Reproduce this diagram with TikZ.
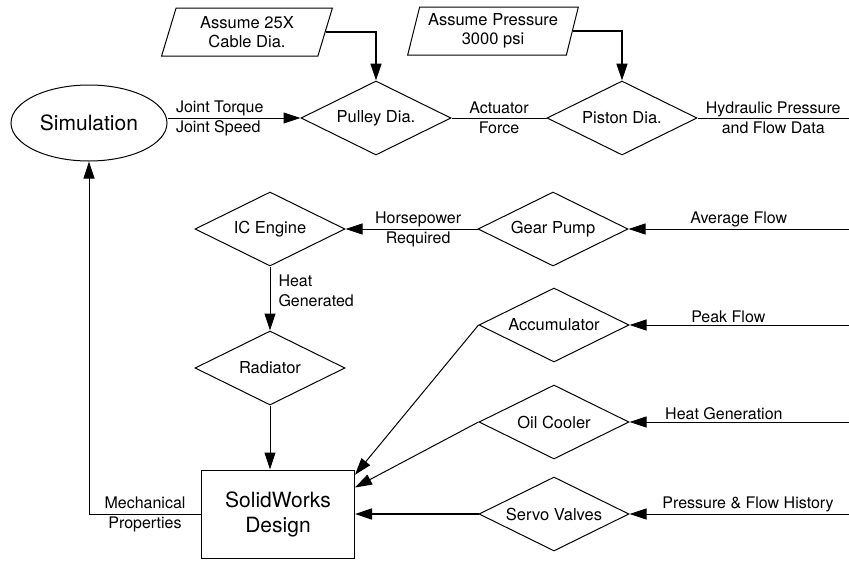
\documentclass[tikz,border=0pt]{standalone}
\usepackage{fontspec}
\setmainfont{TeX Gyre Heros}
\usepackage{tikz}
\usetikzlibrary{positioning, shapes.geometric, arrows.meta}

\begin{document}
\begin{tikzpicture}[x=1pt, y=-1pt, line width=1pt, >={Triangle[length=17pt,width=11pt]},
    decision/.style={draw, diamond, aspect=2, minimum width=150pt, minimum height=74pt, inner sep=0pt, font=\fontsize{16.5}{19}\selectfont},
    given/.style={draw, trapezium, trapezium left angle=73, trapezium right angle=107, trapezium stretches=true, minimum width=171pt, minimum height=48pt, inner sep=0pt, align=center, font=\fontsize{16.5}{19}\selectfont},
    lbl/.style={inner sep=2pt, align=center, font=\fontsize{16}{20}\selectfont},
    heavy/.style={line width=1.6pt}]
    \useasboundingbox (0,0) rectangle (849,560);

    % Main components
    \node[draw, ellipse, minimum width=156pt, minimum height=76pt, font=\fontsize{21}{25}\selectfont] (sim) at (89,123) {Simulation};
    \node[given] (cable) at (247,32) {Assume 25X\\Cable Dia.};
    \node[given] (press) at (493,31) {Assume Pressure\\3000 psi};
    \node[decision] (pulley) at (376,118) {Pulley Dia.};
    \node[decision] (piston) at (622,118) {Piston Dia.};
    \node[decision] (ic) at (270,229) {IC Engine};
    \node[decision] (gear) at (553,229) {Gear Pump};
    \node[decision] (rad) at (270,368) {Radiator};
    \node[decision] (acc) at (554,325) {Accumulator};
    \node[decision] (cooler) at (554,422) {Oil Cooler};
    \node[decision] (servo) at (554,514) {Servo Valves};
    \node[draw, rectangle, minimum width=153pt, minimum height=88pt, align=center, font=\fontsize{21}{25}\selectfont] (sw) at (278,514) {SolidWorks\\Design};

    % Loose ends at the right margin
    \coordinate (hydOut) at (849,118);
    \coordinate (avgIn) at (849,229);
    \coordinate (peakIn) at (849,325);
    \coordinate (heatIn) at (849,422);
    \coordinate (histIn) at (849,514);

    % Connections
    \draw[->] (sim.east |- pulley.west) -- node[lbl, pos=0, right=6pt, align=left] {Joint Torque\\Joint Speed} (pulley.west);
    \draw[heavy, ->] (cable.east) -| (pulley.north);
    \draw[heavy, ->] (press.east) -| (piston.north);
    \draw (pulley.east) -- node[lbl] {Actuator\\Force} (piston.west);
    \draw (piston.east) -- node[lbl] {Hydraulic Pressure\\and Flow Data} (hydOut);
    \draw[->] (avgIn) -- node[lbl, above, pos=0.5] {Average Flow} (gear.east);
    \draw[->] (gear.west) -- node[lbl, pos=0.45] {Horsepower\\Required} (ic.east);
    \draw[->] (ic.south) -- node[lbl, pos=0.38, right=6pt, align=left] {Heat\\Generated} (rad.north);
    \draw[->] (rad.south) -- (rad.south |- sw.north);
    \draw[->] (peakIn) -- node[lbl, above, pos=0.55] {Peak Flow} (acc.east);
    \draw[->] (heatIn) -- node[lbl, above, pos=0.57] {Heat Generation} (cooler.east);
    \draw[->] (histIn) -- node[lbl, above, pos=0.46] {Pressure \& Flow History} (servo.east);
    \draw[->] (acc.west) -- (sw.27);
    \draw[->] (cooler.west) -- (sw.19);
    \draw[heavy, ->] (servo.west) -- (sw.east);

    % Feedback to the simulation
    \draw[->] (sw.west) -| node[lbl, pos=0.25] {Mechanical\\Properties} (sim.south);
\end{tikzpicture}
\end{document}
